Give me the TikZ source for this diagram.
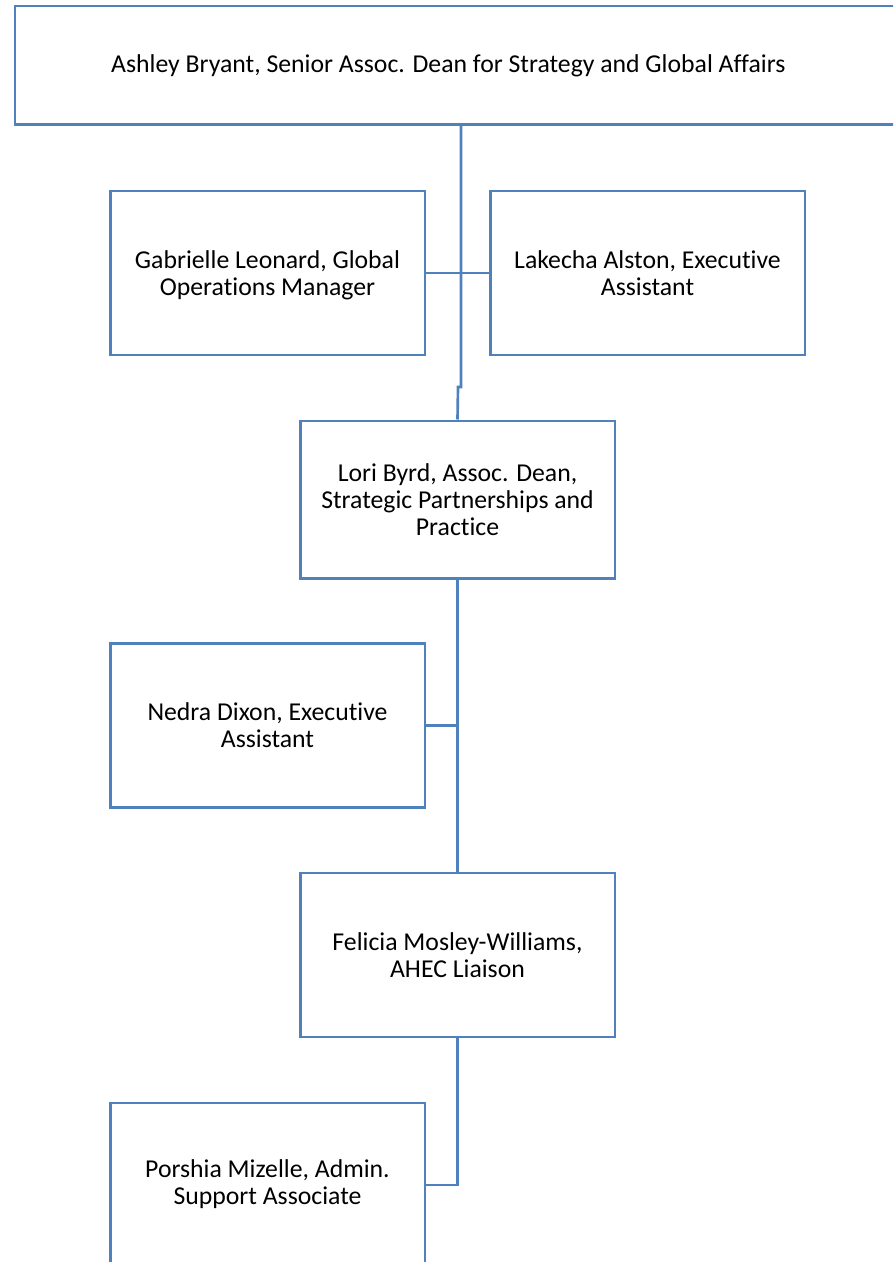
\documentclass[tikz,border=0pt]{standalone}
\usepackage{fontspec}
\setmainfont[Ligatures=NoCommon]{Carlito}
\definecolor{orgblue}{RGB}{79,129,189}
\tikzset{
  person/.style={draw=orgblue, line width=2pt, fill=white, align=center,
    minimum width=236pt, minimum height=123pt, inner sep=0pt,
    font=\fontsize{19.3}{20.3}\selectfont, text depth=0pt},
  link/.style={draw=orgblue, line width=2pt}
}
\begin{document}
\begin{tikzpicture}[x=0.75pt, y=-0.75pt]
  \useasboundingbox (0,0) rectangle (893,1262);
  \begin{scope}
    \clip (0,0) rectangle (893,1262);
    % Top box
    \node[person, minimum width=669pt, minimum height=89pt, text height=17pt, text depth=6pt] (bryant) at (461,65.5)
      {Ashley Bryant, Senior Assoc. Dean for Strategy and Global Affairs\hspace{19pt}};
    % Second row
    \node[person] (leonard) at (267.5,273) {Gabrielle Leonard, Global\\Operations Manager};
    \node[person] (alston) at (647.5,273) {Lakecha Alston, Executive\\Assistant};
    \node[person, minimum height=118pt] (byrd) at (457.5,499.5)
      {Lori Byrd, Assoc. Dean,\\Strategic Partnerships and\\Practice};
    % Lower boxes
    \node[person] (dixon) at (267.5,725.5) {Nedra Dixon, Executive\\Assistant};
    \node[person] (mosley) at (457.5,955) {Felicia Mosley-Williams,\\AHEC Liaison};
    \node[person, minimum height=150pt, text depth=31.5pt] (mizelle) at (267.5,1203)
      {Porshia Mizelle, Admin.\\Support Associate};
    % Connectors
    \coordinate (jog) at (461,387);
    \draw[link] (bryant.south -| jog) -- (jog) -- ++(-3,0) -- (byrd.north);
    \draw[link] (leonard.east) -- (alston.west);
    \draw[link] (byrd.south) -- (mosley.north);
    \draw[link] (dixon.east) -- (dixon.east -| byrd.south);
    \draw[link] (mosley.south) |- ([yshift=13.5pt]mizelle.east);
  \end{scope}
\end{tikzpicture}
\end{document}
